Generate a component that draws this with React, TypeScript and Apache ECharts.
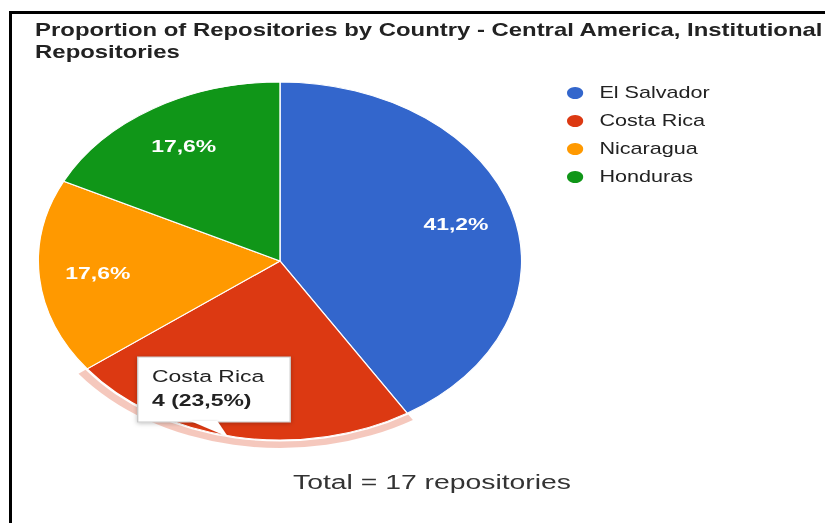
import React, { useEffect, useRef } from 'react';
import * as echarts from 'echarts';

const countries = ['El Salvador', 'Costa Rica', 'Nicaragua', 'Honduras'];
const repoCounts = [7, 4, 3, 3];
const sliceColors = ['#3366cc', '#dc3912', '#ff9900', '#109618'];
const highlightedCountry = 'Costa Rica';
const titleLines = ['Proportion of Repositories by Country - Central America, Institutional', 'Repositories'];

const S = 1.35;
const W = 825;
const H = 523;
const innerW = W / S;
const FONT = '"Liberation Sans", Arial, Helvetica, sans-serif';

export default function App() {
  const ref = useRef<HTMLDivElement>(null);
  useEffect(() => {
    const chart = echarts.init(ref.current!, null, { renderer: 'svg' });
    const total = repoCounts.reduce((a, b) => a + b, 0);
    const pct = (v: number) => ((v / total) * 100).toFixed(1).replace('.', ',');
    const center = [207.4, 261];
    const R = 179;
    const hiIdx = countries.indexOf(highlightedCountry);
    const mainData = countries.map((name, i) => ({ name, value: repoCounts[i], itemStyle: { color: sliceColors[i] } }));
    // the highlighted slice's label is hidden behind the tooltip box
    const labelData = countries.map((name, i) => ({
      name,
      value: repoCounts[i],
      label: { show: i !== hiIdx },
    }));
    const ringData = countries.map((name, i) => ({
      name,
      value: repoCounts[i],
      itemStyle: { color: i === hiIdx ? 'rgba(220,57,18,0.28)' : 'rgba(0,0,0,0)' },
    }));

    chart.setOption({
      animation: false,
      textStyle: { fontFamily: FONT },
      title: {
        text: titleLines.join('\n'),
        left: 26,
        top: 19,
        padding: 0,
        textStyle: { fontSize: 17.7, fontWeight: 'bold', color: '#222', lineHeight: 22, fontFamily: FONT },
      },
      legend: {
        orient: 'vertical',
        left: 418,
        top: 85,
        padding: 0,
        itemWidth: 26,
        itemHeight: 14,
        itemGap: 12,
        icon: 'circle',
        data: countries,
        textStyle: { fontSize: 16, color: '#222', fontFamily: FONT },
      },
      series: [
        {
          type: 'pie',
          silent: true,
          center,
          radius: [0, R],
          startAngle: 90,
          clockwise: true,
          data: mainData,
          label: { show: false },
          labelLine: { show: false },
          itemStyle: { borderColor: '#ffffff', borderWidth: 1 },
          z: 2,
        },
        {
          type: 'pie',
          silent: true,
          center,
          radius: [R + 1.5, R + 8],
          startAngle: 90,
          clockwise: true,
          data: ringData,
          label: { show: false },
          labelLine: { show: false },
          z: 2,
        },
        {
          type: 'pie',
          silent: true,
          center,
          radius: [86, R],
          startAngle: 90,
          clockwise: true,
          data: labelData,
          itemStyle: { color: 'rgba(0,0,0,0)' },
          label: {
            show: true,
            position: 'inside',
            formatter: (p: any) => pct(p.value) + '%',
            color: '#ffffff',
            fontSize: 17,
            fontWeight: 'bold',
            fontFamily: FONT,
          },
          labelLine: { show: false },
          z: 3,
        },
      ],
      graphic: [
        {
          type: 'group',
          z: 100,
          children: [
            {
              type: 'rect',
              shape: { x: 102, y: 357, width: 113, height: 65 },
              style: {
                fill: '#ffffff',
                stroke: '#c8c8c8',
                lineWidth: 1,
                shadowBlur: 4,
                shadowColor: 'rgba(0,0,0,0.25)',
                shadowOffsetY: 1,
              },
              z: 100,
            },
            {
              type: 'polygon',
              shape: { points: [[141, 421], [161, 421], [169, 437]] },
              style: { fill: '#ffffff', shadowBlur: 2, shadowColor: 'rgba(0,0,0,0.15)' },
              z: 101,
            },
            {
              type: 'text',
              x: 112.6,
              y: 376,
              style: {
                text: highlightedCountry,
                fontSize: 17,
                fontFamily: FONT,
                fill: '#222',
                align: 'left',
                verticalAlign: 'middle',
              },
              z: 102,
            },
            {
              type: 'text',
              x: 112.6,
              y: 400,
              style: {
                text: `${repoCounts[hiIdx]} (${pct(repoCounts[hiIdx])}%)`,
                fontSize: 17,
                fontWeight: 'bold',
                fontFamily: FONT,
                fill: '#222',
                align: 'left',
                verticalAlign: 'middle',
              },
              z: 102,
            },
          ],
        },
        {
          type: 'text',
          x: 320,
          y: 481.5,
          z: 100,
          style: {
            text: `Total = ${total} repositories`,
            fontSize: 21,
            fontFamily: FONT,
            fill: '#333',
            align: 'center',
            verticalAlign: 'middle',
          },
        },
      ],
    });
    return () => chart.dispose();
  }, []);

  return (
    <div style={{ position: 'fixed', left: 0, top: 0, width: W, height: H, overflow: 'hidden', background: '#fff' }}>
      <div
        style={{
          position: 'absolute',
          left: 9,
          top: 11,
          width: W - 9,
          height: H - 11,
          borderLeft: '3px solid #000',
          borderTop: '3px solid #000',
          boxSizing: 'border-box',
        }}
      />
      <div
        ref={ref}
        style={{
          position: 'absolute',
          left: 0,
          top: 0,
          width: innerW,
          height: H,
          transform: `scaleX(${S})`,
          transformOrigin: '0 0',
        }}
      />
    </div>
  );
}
